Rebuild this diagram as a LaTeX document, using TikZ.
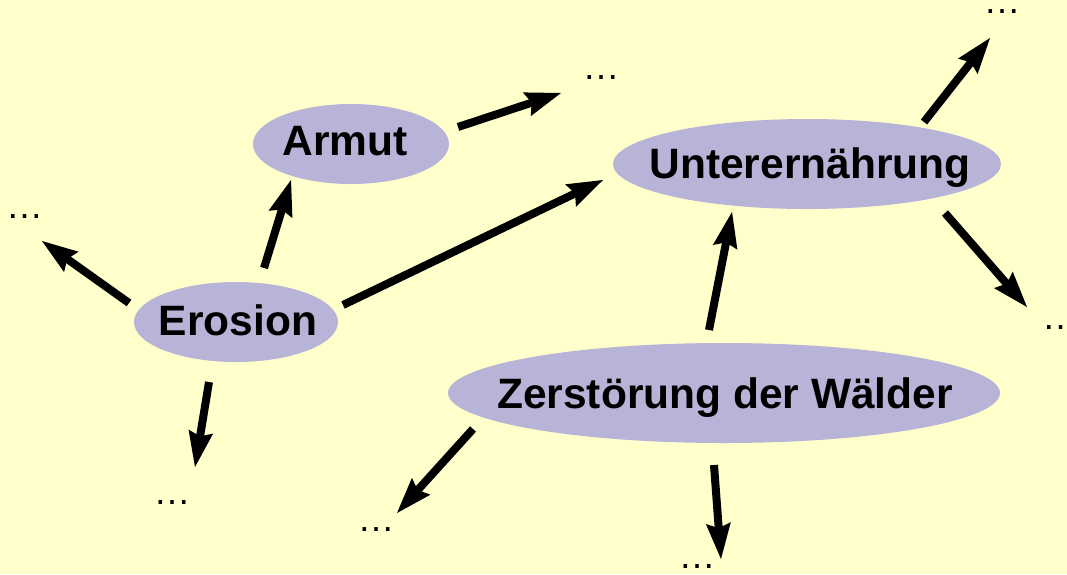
\documentclass[tikz,border=0pt]{standalone}
\usepackage{fontspec}
\setmainfont{Liberation Sans}
\usetikzlibrary{arrows.meta}
\definecolor{bgyellow}{RGB}{255,255,204}
\definecolor{ellfill}{RGB}{184,180,216}
\tikzset{
  arr/.style={line width=8pt, -{Stealth[length=36pt,width=25pt,inset=5pt,line width=0pt]}},
  lbl/.style={anchor=base, inner sep=0pt, font=\fontsize{42.5}{50}\selectfont\bfseries},
  dots/.style={anchor=base, inner sep=0pt, font=\fontsize{37}{44}\selectfont},
  ellbg/.style={fill=ellfill}
}
\begin{document}
\begin{tikzpicture}[x=1pt,y=-1pt]
\useasboundingbox (0,0) rectangle (1067,574);
\fill[bgyellow] (0,0) rectangle (1067,574);
% ellipses
\fill[ellbg] (351,144) ellipse [x radius=98, y radius=40];
\fill[ellbg] (807,164) ellipse [x radius=194, y radius=45];
\fill[ellbg] (236,322) ellipse [x radius=102, y radius=40];
\fill[ellbg] (724,393) ellipse [x radius=276, y radius=50];
% labels
\node[lbl] (armut) at (345,155) {Armut};
\node[lbl] (unter) at (810,178) {Unterernährung};
\node[lbl] (erosion) at (238,335) {Erosion};
\node[lbl] (zer) at (725,408) {Zerstörung der Wälder};
% ellipses (text)
\node[dots] (d1) at (24.5,218) {…};
\node[dots] (d2) at (601,79) {…};
\node[dots] (d3) at (1002,13) {…};
\node[dots] (d4) at (1060.5,329) {…};
\node[dots] (d5) at (172,504) {…};
\node[dots] (d6) at (376,531) {…};
\node[dots] (d7) at (697,568) {…};
% free arrow ends
\coordinate (t1) at (42,241);
\coordinate (t2) at (195,467);
\coordinate (t3) at (561,93);
\coordinate (t4) at (990,38);
\coordinate (t5) at (1027,307);
\coordinate (t6) at (397,513);
\coordinate (t7) at (721,559);
% connectors
\draw[arr] ([shift={(26,-67)}]erosion.base) -- ([shift={(-54,25)}]armut.base);
\draw[arr] ([shift={(105,-30)}]erosion.base) -- ([shift={(-207,2)}]unter.base);
\draw[arr] ([shift={(-16,-78)}]zer.base) -- ([shift={(-78,34)}]unter.base);
\draw[arr] ([shift={(-109,-32)}]erosion.base) -- (t1);
\draw[arr] ([shift={(-29,47)}]erosion.base) -- (t2);
\draw[arr] ([shift={(113,-28)}]armut.base) -- (t3);
\draw[arr] ([shift={(114,-56)}]unter.base) -- (t4);
\draw[arr] ([shift={(135,35)}]unter.base) -- (t5);
\draw[arr] ([shift={(-252,21)}]zer.base) -- (t6);
\draw[arr] ([shift={(-11,57)}]zer.base) -- (t7);
\end{tikzpicture}
\end{document}
